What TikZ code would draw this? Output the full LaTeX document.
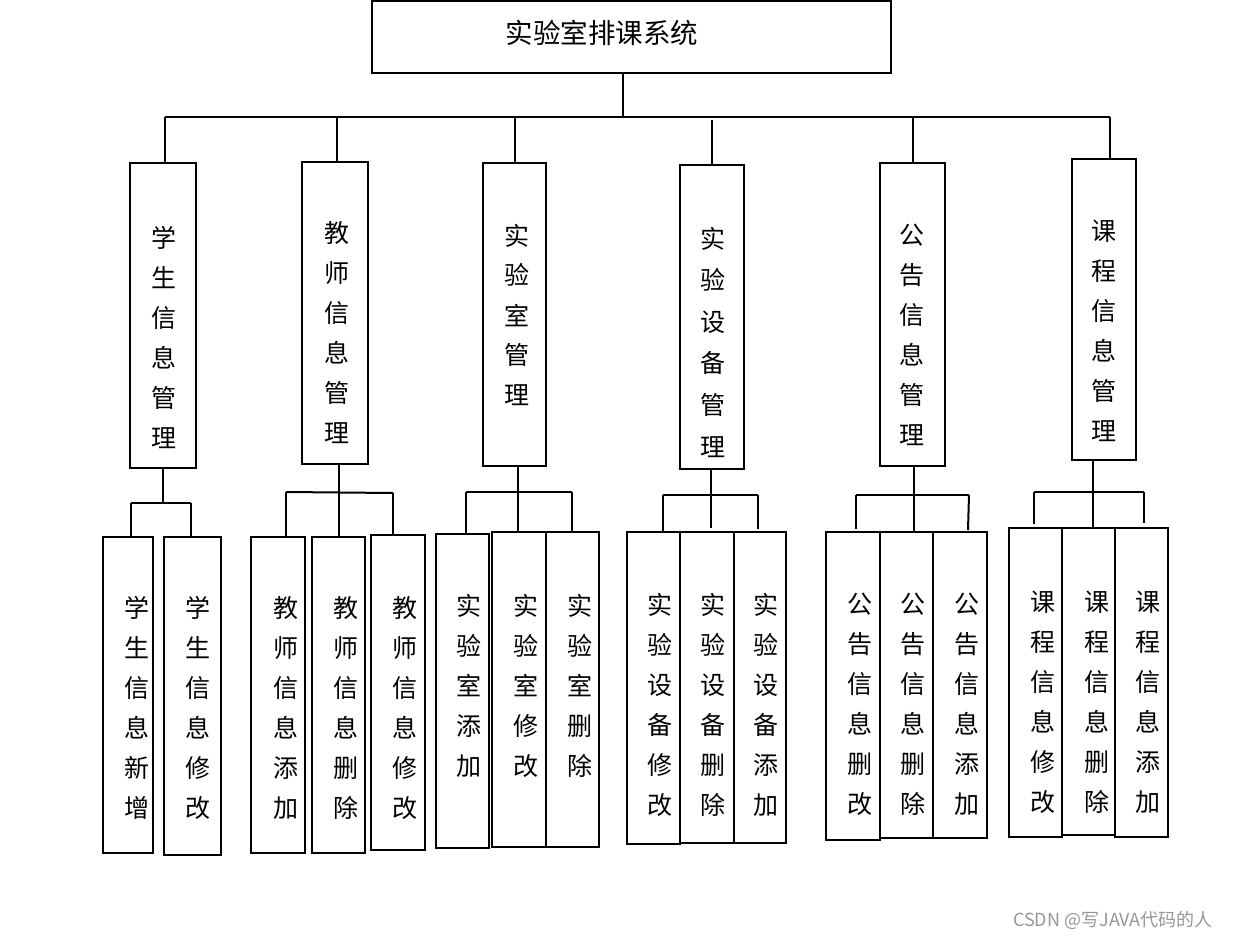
\documentclass[tikz,border=0pt]{standalone}
\usepackage{fontspec}
\newfontfamily\cjk{Noto Sans CJK SC}
\definecolor{wm}{RGB}{150,150,150}
\begin{document}
\begin{tikzpicture}[x=1pt,y=-1pt,
  box/.style={draw=black,line width=2pt,inner sep=0pt,outer sep=0pt},
  vtxt/.style={inner sep=0pt,align=center,font=\cjk\fontsize{25}{40}\selectfont},
  conn/.style={draw=black,line width=2pt}]
\useasboundingbox (0,0) rectangle (1235,941);
% top
\node[box,minimum width=519pt,minimum height=72pt] (top) at (631.5,37) {};
\node[inner sep=0pt,font=\cjk\fontsize{27.5}{30}\selectfont] (toptxt) at (602,33) {实验室排课系统};
% level 2 boxes
\newcommand{\bx}[8]{%
  \node[box,minimum width=#4pt,minimum height=#5pt] (#1) at (#2,#3) {};
  \node[vtxt] (#1t) at (#6,#7) {#8};}
\bx{m1}{163}{315.5}{66}{305}{164}{337}{学\\生\\信\\息\\管\\理}
\bx{m2}{335}{313}{66}{302}{337}{333}{教\\师\\信\\息\\管\\理}
\bx{m3}{514.5}{314.5}{63}{303}{517}{315}{实\\验\\室\\管\\理}
\node[box,minimum width=64pt,minimum height=304pt] (m4) at (712,317) {};
\node[vtxt,font=\cjk\fontsize{25}{41.6}\selectfont] (m4t) at (713,342) {实\\验\\设\\备\\管\\理};
\bx{m5}{912.5}{314.5}{65}{303}{912}{335}{公\\告\\信\\息\\管\\理}
\bx{m6}{1104}{309.5}{64}{301}{1104}{331}{课\\程\\信\\息\\管\\理}
% level 3 boxes
\bx{a1}{128}{695}{50}{316}{137}{708}{学\\生\\信\\息\\新\\增}
\bx{a2}{192.5}{696}{57}{318}{198}{708}{学\\生\\信\\息\\修\\改}
\bx{b1}{278}{695}{54}{316}{286}{708}{教\\师\\信\\息\\添\\加}
\bx{b2}{338.5}{695}{53}{316}{346}{708}{教\\师\\信\\息\\删\\除}
\bx{b3}{398}{692.5}{54}{315}{405}{708}{教\\师\\信\\息\\修\\改}
\bx{c1}{462.5}{691}{53}{314}{469}{686}{实\\验\\室\\添\\加}
\bx{c2}{519}{689.5}{54}{315}{526}{686}{实\\验\\室\\修\\改}
\bx{c3}{572.5}{689.5}{53}{315}{580}{686}{实\\验\\室\\删\\除}
\bx{d1}{653.5}{688}{53}{312}{660}{705}{实\\验\\设\\备\\修\\改}
\bx{d2}{707}{687.5}{54}{311}{713}{705}{实\\验\\设\\备\\删\\除}
\bx{d3}{760}{687.5}{52}{311}{766}{705}{实\\验\\设\\备\\添\\加}
\bx{e1}{853}{686}{54}{308}{860}{704}{公\\告\\信\\息\\删\\改}
\bx{e2}{906.5}{685}{53}{306}{913}{704}{公\\告\\信\\息\\删\\除}
\bx{e3}{960}{685}{54}{306}{967}{704}{公\\告\\信\\息\\添\\加}
\bx{f1}{1035.5}{682.5}{53}{309}{1043}{702}{课\\程\\信\\息\\修\\改}
\bx{f2}{1088.5}{681.5}{53}{307}{1097}{702}{课\\程\\信\\息\\删\\除}
\bx{f3}{1141.5}{682.5}{53}{309}{1148}{702}{课\\程\\信\\息\\添\\加}
% main bus
\coordinate (j0) at (623,117);
\coordinate (bl) at (165,117);
\coordinate (br) at (1110,117);
\draw[conn] (top.south -| j0) -- (j0);
\draw[conn] (bl) -- (br);
\coordinate (s1) at (165,117);
\coordinate (s2) at (337,117);
\coordinate (s3) at (515,117);
\coordinate (s4) at (712,120);
\coordinate (s5) at (913,117);
\coordinate (s6) at (1110,117);
\foreach \i in {1,...,6} {\draw[conn] (s\i) -- (s\i |- m\i.north);}
% group 1
\coordinate (g1) at (163,503); \coordinate (g1l) at (131,503); \coordinate (g1r) at (191,503);
\draw[conn] (m1.south -| g1) -- (g1);
\draw[conn] (g1l) -- (g1r);
\draw[conn] (g1l) -- (g1l |- a1.north);
\draw[conn] (g1r) -- (g1r |- a2.north);
% group 2
\coordinate (g2) at (339,492); \coordinate (g2l) at (286,492); \coordinate (g2r) at (393,493);
\draw[conn] (m2.south -| g2) -- (g2 |- b2.north);
\draw[conn] (g2l) -- (g2r);
\draw[conn] (g2l) -- (g2l |- b1.north);
\draw[conn] (g2r) -- (g2r |- b3.north);
% group 3
\coordinate (g3) at (518,492); \coordinate (g3l) at (466,492); \coordinate (g3r) at (572,492);
\draw[conn] (m3.south -| g3) -- (g3 |- c2.north);
\draw[conn] (g3l) -- (g3r);
\draw[conn] (g3l) -- (g3l |- c1.north);
\draw[conn] (g3r) -- (g3r |- c3.north);
% group 4
\coordinate (g4) at (711,528); \coordinate (g4l) at (663,495); \coordinate (g4r) at (758,495);
\coordinate (g4le) at (663,531); \coordinate (g4re) at (758,529);
\draw[conn] (m4.south -| g4) -- (g4);
\draw[conn] (g4l) -- (g4r);
\draw[conn] (g4l) -- (g4le);
\draw[conn] (g4r) -- (g4re);
% group 5
\coordinate (g5) at (914,495); \coordinate (g5l) at (856,495); \coordinate (g5r) at (969,495);
\coordinate (g5le) at (856,529); \coordinate (g5re) at (968,530);
\draw[conn] (m5.south -| g5) -- (g5 |- e2.north);
\draw[conn] (g5l) -- (g5r);
\draw[conn] (g5l) -- (g5le);
\draw[conn] (g5r |- g5l) -- (g5re);
% group 6
\coordinate (g6) at (1093,492); \coordinate (g6l) at (1034,492); \coordinate (g6r) at (1144,492);
\coordinate (g6le) at (1034,524); \coordinate (g6re) at (1144,523);
\draw[conn] (m6.south -| g6) -- (g6 |- f2.north);
\draw[conn] (g6l) -- (g6r);
\draw[conn] (g6l) -- (g6le);
\draw[conn] (g6r) -- (g6re);
% watermark
\node[inner sep=0pt,text=wm,font=\cjk\fontsize{18}{20}\selectfont] (wmk) at (1113,920) {CSDN @写JAVA代码的人};
\end{tikzpicture}
\end{document}
